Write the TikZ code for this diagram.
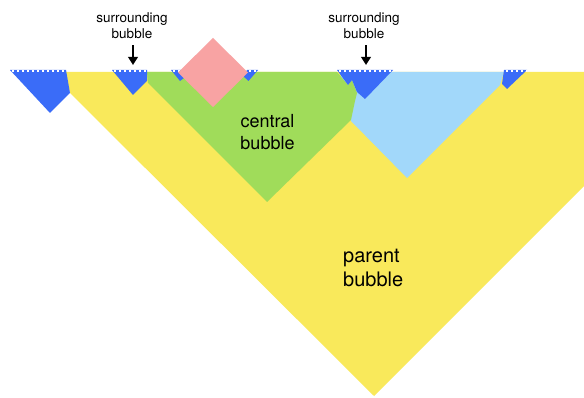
\documentclass[tikz,border=0pt]{standalone}
\usepackage{fontspec}
\setmainfont{TeX Gyre Heros}
\usetikzlibrary{arrows.meta}
\definecolor{cyel}{HTML}{F9E95B}
\definecolor{cgrn}{HTML}{A0DC5A}
\definecolor{clb}{HTML}{A2D8FA}
\definecolor{cblu}{HTML}{3A6CF8}
\definecolor{cpnk}{HTML}{F8A3A3}
\begin{document}
\begin{tikzpicture}[x=1pt,y=-1pt,
  crenel/.style={white,line width=2pt,dash pattern=on 2pt off 3pt},
  lab/.style={inner sep=0pt,align=center,font=\fontsize{13.5}{16}\selectfont},
  bigc/.style={inner sep=0pt,align=center,font=\fontsize{18}{22}\selectfont},
  bigp/.style={inner sep=0pt,align=left,font=\fontsize{20}{24}\selectfont},
  arr/.style={line width=2.4pt,black,-{Triangle[length=8pt,width=9.5pt]}}]
\useasboundingbox (0,0) rectangle (584,398);
\fill[white] (0,0) rectangle (584,398);
% parent bubble
\fill[cyel] (65,72) -- (70,93) -- (374,396) -- (584,186) -- (584,72) -- cycle;
% light blue bubble
\fill[clb] (340,72) -- (504,72) -- (500,85) -- (407,178) -- (351,121) -- cycle;
% central bubble
\fill[cgrn] (147,72) -- (148,83) -- (267,202) -- (351,120) -- (355,101) -- (357,93) -- (352,80) -- (348,85) -- (337,72) -- cycle;
% blue surrounding bubbles
\fill[cblu] (10,70) -- (66,70) -- (70,93) -- (50,113) -- cycle;
\fill[cblu] (112,70) -- (147,70) -- (147,81) -- (133,95) -- cycle;
\fill[cblu] (337,70) -- (393,70) -- (365,99) -- (357,92) -- (352,80) -- (348,85) -- cycle;
\fill[cblu] (504,70) -- (527,70) -- (507,89) -- (502,84) -- cycle;
\fill[cblu] (171,70) -- (181,70) -- (184,78) -- (180,81) -- cycle;
\fill[cblu] (247,70) -- (258,70) -- (248.5,81) -- (243,76) -- cycle;
% crenellations
\draw[crenel] (12,71) -- (66,71);
\draw[crenel] (114,71) -- (147,71);
\draw[crenel] (339,71) -- (393,71);
\draw[crenel] (506,71) -- (527,71);
\draw[crenel] (173,71) -- (181,71);
\draw[crenel] (249,71) -- (258,71);
% pink diamond
\fill[cpnk] (213,38) -- (248,72.5) -- (213,107) -- (178,72.5) -- cycle;
% labels
\node[lab] (lab1) at (132,25.2) {surrounding\\bubble};
\node[lab] (lab2) at (364,25.2) {surrounding\\bubble};
\coordinate (tip1) at (133,65);
\coordinate (tip2) at (366,65);
\draw[arr] ([xshift=1pt,yshift=-7pt]lab1.south) -- (tip1);
\draw[arr] ([xshift=2pt,yshift=-7pt]lab2.south) -- (tip2);
\node[bigc] (central) at (267.5,132.2) {central\\bubble};
\node[bigp,anchor=west] (parent) at (343,267.8) {parent\\bubble};
\end{tikzpicture}
\end{document}
